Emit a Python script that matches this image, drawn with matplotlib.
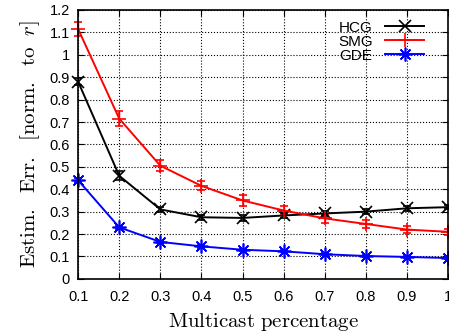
import numpy as np
import matplotlib
matplotlib.use('Agg')
import matplotlib.pyplot as plt
from matplotlib.lines import Line2D

plt.rcParams['font.family'] = ['Liberation Sans', 'DejaVu Sans']
plt.rcParams['mathtext.fontset'] = 'cm'

# multicast percentage
x = [0.1, 0.2, 0.3, 0.4, 0.5, 0.6, 0.7, 0.8, 0.9, 1.0]

hcg = [0.88, 0.46, 0.31, 0.275, 0.272, 0.283, 0.292, 0.30, 0.315, 0.32]
hcg_err = [0.015, 0.02, 0.012, 0.012, 0.012, 0.012, 0.01, 0.01, 0.01, 0.01]
smg = [1.115, 0.715, 0.505, 0.415, 0.35, 0.305, 0.27, 0.245, 0.22, 0.21]
smg_err = [0.03, 0.035, 0.025, 0.02, 0.025, 0.02, 0.02, 0.018, 0.015, 0.012]
gde = [0.44, 0.23, 0.165, 0.145, 0.13, 0.123, 0.11, 0.102, 0.098, 0.093]
gde_err = [0.008, 0.008, 0.006, 0.006, 0.005, 0.005, 0.005, 0.005, 0.005, 0.005]

fig = plt.figure(figsize=(4.49, 3.32), dpi=100)
ax = fig.add_axes([0.174, 0.16, 0.824, 0.81])

asterisk = (8, 2, 0)
styles = [('HCG', hcg, hcg_err, 'black', 'x', 9),
          ('SMG', smg, smg_err, 'red', '+', 10),
          ('GDE', gde, gde_err, 'blue', asterisk, 10)]
handles = []
for name, y, e, c, m, s in styles:
    ax.errorbar(x, y, yerr=e, color=c, marker=m, ms=s, mew=1.2,
                lw=1.4, capsize=3, elinewidth=1, clip_on=False)
    handles.append(Line2D([], [], color=c, marker=m, ms=s, mew=1.2, lw=1.4,
                          label=name))

ax.set_xlim(0.1, 1.0)
ax.set_ylim(0, 1.2)
ax.set_xticks(x)
ax.set_xticklabels(['0.1', '0.2', '0.3', '0.4', '0.5', '0.6', '0.7', '0.8', '0.9', '1'])
ax.set_yticks(np.arange(0, 1.21, 0.1))
ax.set_yticklabels(['0', '0.1', '0.2', '0.3', '0.4', '0.5', '0.6', '0.7', '0.8',
                    '0.9', '1', '1.1', '1.2'])
ax.tick_params(direction='in', top=True, right=True, labelsize=10.5, length=4)
ax.tick_params(axis='x', pad=8)
ax.tick_params(axis='y', pad=6)
ax.grid(True, color='black', linestyle=':', linewidth=0.8)
for s in ax.spines.values():
    s.set_linewidth(1.2)

ax.set_xlabel(r'$\mathrm{Multicast\ percentage}$', fontsize=15, labelpad=5)
ax.set_ylabel(r'$\mathrm{Estim.\ \ Err.\ \ [norm.\ \ to\ \ }r\mathrm{]}$',
              fontsize=15, labelpad=5)

leg = ax.legend(handles=handles, loc='upper right', frameon=False,
                markerfirst=False, fontsize=11, handlelength=2.6,
                labelspacing=0.0, borderaxespad=0.3, handletextpad=0.8,
                bbox_to_anchor=(0.965, 1.0))

fig.savefig('out.png', dpi=100)
